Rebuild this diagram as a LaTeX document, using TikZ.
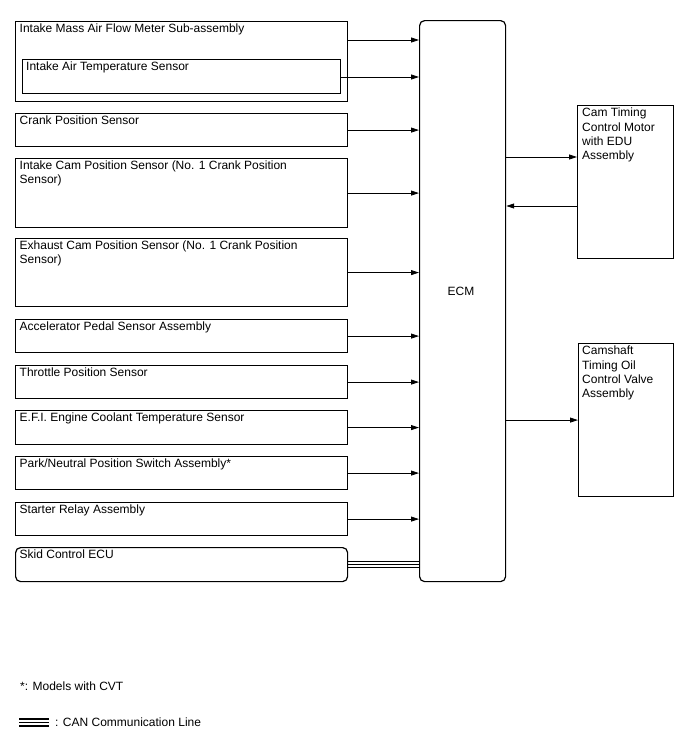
\documentclass[tikz,border=0pt]{standalone}
\usepackage{fontspec}
\setmainfont{Liberation Sans}
\usetikzlibrary{arrows.meta,calc}
\tikzset{
  box/.style={draw, line width=1.2pt, rectangle, anchor=north west, inner sep=0pt},
  rbox/.style={box, rounded corners=5pt},
  txt/.style={anchor=base west, inner sep=0pt, font=\fontsize{12}{14.3}\selectfont, align=left},
  mtxt/.style={txt, anchor=north west},
  sig/.style={line width=0.8pt, -{Triangle[length=8pt,width=5pt]}},
  can/.style={line width=1.1pt},
  canleg/.style={line width=1.6pt},
}
\newcommand\sensorbox[6]{%
  \node[box, minimum width=#4pt, minimum height=#5pt] (#1) at (#2,#3) {};
  \node[mtxt] (#1t) at ($(#1.north west)+(4.5,2.6)$) {#6};
}
\begin{document}
\begin{tikzpicture}[x=1pt,y=-1pt]
\useasboundingbox (0,0) rectangle (688,755);
% ECM
\node[rbox, minimum width=86pt, minimum height=561pt] (ecm) at (419,20) {};
\node[txt, anchor=base] (ecmt) at (461,295) {ECM};
% left boxes
\sensorbox{maf}{15}{21}{332}{80}{Intake Mass Air Flow Meter Sub-assembly}
\node[box, minimum width=318pt, minimum height=34pt] (iat) at (22,59) {};
\node[mtxt] (iatt) at ($(iat.north west)+(4,2.2)$) {Intake Air Temperature Sensor};
\sensorbox{crank}{15}{113}{332}{33}{Crank Position Sensor}
\sensorbox{icam}{15}{158}{332}{69}{Intake Cam Position Sensor (No. 1 Crank Position\\Sensor)}
\sensorbox{ecam}{15}{238}{332}{68}{Exhaust Cam Position Sensor (No. 1 Crank Position\\Sensor)}
\sensorbox{accel}{15}{319}{332}{33}{Accelerator Pedal Sensor Assembly}
\sensorbox{thr}{15}{365}{332}{33}{Throttle Position Sensor}
\sensorbox{efi}{15}{410}{332}{34}{E.F.I. Engine Coolant Temperature Sensor}
\sensorbox{pnp}{15}{456}{332}{33}{Park/Neutral Position Switch Assembly*}
\sensorbox{star}{15}{502}{332}{33}{Starter Relay Assembly}
\node[rbox, minimum width=332pt, minimum height=34pt] (skid) at (15,547) {};
\node[mtxt] (skidt) at ($(skid.north west)+(4.5,2.6)$) {Skid Control ECU};
% right boxes
\node[box, minimum width=96pt, minimum height=153pt] (ctm) at (577,105) {};
\node[mtxt] (ctmt) at ($(ctm.north west)+(5,3)$) {Cam Timing\\Control Motor\\with EDU\\Assembly};
\node[box, minimum width=95pt, minimum height=153pt] (ocv) at (578,343) {};
\node[mtxt] (ocvt) at ($(ocv.north west)+(4,3)$) {Camshaft\\Timing Oil\\Control Valve\\Assembly};
% arrows
\coordinate (mafo) at (347,40);
\coordinate (iato) at (340,77);
\draw[sig] (mafo) -- (mafo -| ecm.west);
\draw[sig] (iato) -- (iato -| ecm.west);
\foreach \n in {crank,icam,ecam,accel,thr,efi,pnp,star}
  \draw[sig] (\n.east) -- (\n.east -| ecm.west);
\coordinate (ctmin) at (577,157);
\coordinate (ctmout) at (577,206);
\draw[sig] (ctmin -| ecm.east) -- (ctmin);
\draw[sig] (ctmout) -- (ctmout -| ecm.east);
\draw[sig] (ocv.west -| ecm.east) -- (ocv.west);
% CAN
\foreach \d in {-3,0,3}
  \draw[can] ($(skid.east)+(0,\d)$) -- ($(skid.east -| ecm.west)+(0,\d)$);
% footnotes
\node[txt] (fn) at (20,690) {*: Models with CVT};
\coordinate (lg1) at (19,722.5);
\coordinate (lg2) at (49,722.5);
\foreach \d in {-3.5,0,3.5}
  \draw[canleg] ($(lg1)+(0,\d)$) -- ($(lg2)+(0,\d)$);
\node[txt] (lgt) at (55,726) {: CAN Communication Line};
\end{tikzpicture}
\end{document}
